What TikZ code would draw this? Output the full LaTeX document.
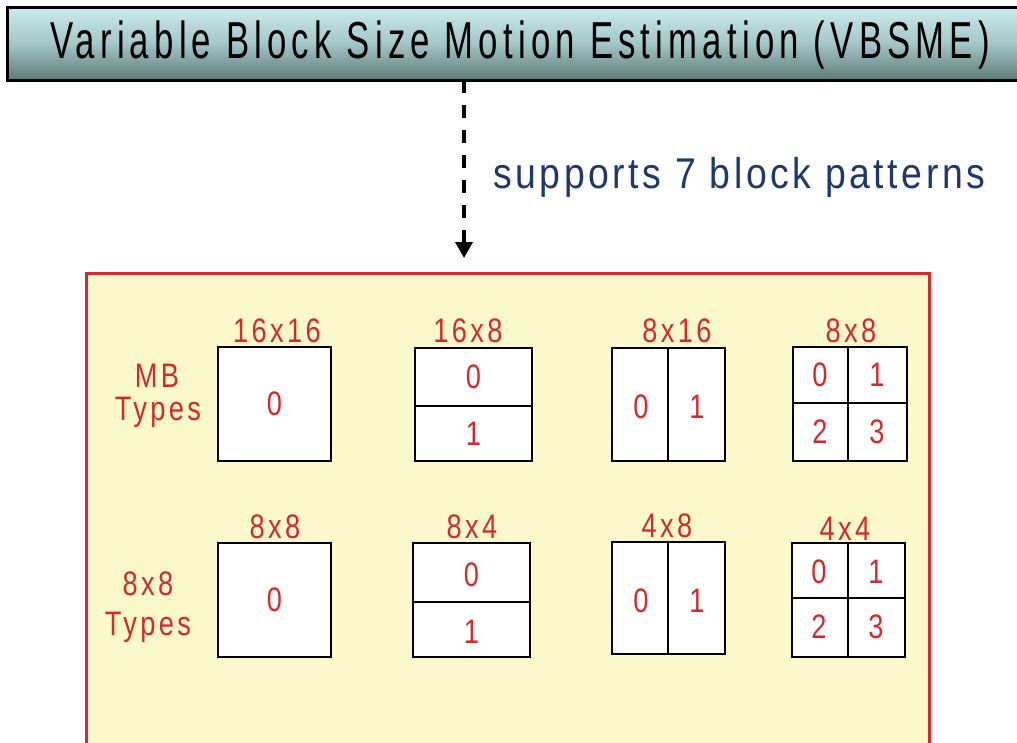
\documentclass[tikz,border=0pt]{standalone}
\usepackage{fontspec}
\usepackage{graphicx}
\usetikzlibrary{arrows.meta}
\newfontfamily\cfont[FakeStretch=0.8,LetterSpace=10]{Liberation Sans}
\newfontfamily\hfont[FakeStretch=0.8,LetterSpace=12]{Liberation Sans}
\newfontfamily\sfont[FakeStretch=0.85,LetterSpace=8]{Liberation Sans}
\definecolor{vred}{HTML}{D12A2F}
\definecolor{vnavy}{HTML}{1F3A6A}
\definecolor{vyellow}{HTML}{FBF8CC}
\definecolor{htop}{HTML}{CDEBEF}
\definecolor{hmid}{HTML}{A3C6C6}
\definecolor{hbot}{HTML}{5D7A77}
\tikzset{
  blk/.style={draw=black,line width=2.8pt,fill=white},
  divl/.style={draw=black,line width=2.8pt},
  lbl/.style={text=vred,font=\cfont\fontsize{34}{34}\selectfont,inner sep=0pt},
  num/.style={text=vred,font=\cfont\fontsize{34}{34}\selectfont,inner sep=0pt},
}
\begin{document}
\begin{tikzpicture}[x=1pt,y=-1pt]
\clip (0,0) rectangle (1017,742);
\fill[white] (0,0) rectangle (1017,742);
% header
\shade[top color=htop,bottom color=hbot,middle color=hmid] (7,7) rectangle (1030,80);
\draw[line width=3pt] (7,7) rectangle (1030,80);
\node[inner sep=0pt] (title) at (520,45) {\resizebox{940pt}{\height}{\hfont\fontsize{52}{52}\selectfont Variable Block Size Motion Estimation (VBSME)}};
\coordinate (hb) at (464,80);
% panel
\draw[draw=vred,fill=vyellow,line width=3pt] (86,273) rectangle (929,790);
\coordinate (pt) at (464,258);
\draw[line width=3.5pt,dash pattern=on 13pt off 12pt,-{Triangle[width=17pt,length=16pt]}] (hb) -- (pt);
\node[anchor=base west,inner sep=0pt,text=vnavy] (sup) at (493,188) {\resizebox{492pt}{\height}{\sfont\fontsize{43}{43}\selectfont supports 7 block patterns}};
% row 1
\node[blk,minimum width=113pt,minimum height=114pt,inner sep=0pt] (b1) at (274.5,404) {};
\node[num] (b1n) at (b1.center) {0};
\node[lbl,anchor=base] (b1l) at (277,342) {16x16};

\draw[blk] (415,348) rectangle (532,461);
\coordinate (b2a) at (415,406); \coordinate (b2b) at (532,406);
\draw[divl] (b2a) -- (b2b);
\node[num] (b2n0) at (473.5,377) {0};
\node[num] (b2n1) at (473.5,434) {1};
\node[lbl,anchor=base] (b2l) at (468,342) {16x8};

\draw[blk] (612,348) rectangle (725,461);
\coordinate (b3a) at (668,348); \coordinate (b3b) at (668,461);
\draw[divl] (b3a) -- (b3b);
\node[num] (b3n0) at (641,407) {0};
\node[num] (b3n1) at (697,407) {1};
\node[lbl,anchor=base] (b3l) at (677,342) {8x16};

\draw[blk] (793,347) rectangle (907,461);
\coordinate (b4a) at (848,347); \coordinate (b4b) at (848,461);
\coordinate (b4c) at (793,403); \coordinate (b4d) at (907,403);
\draw[divl] (b4a) -- (b4b);
\draw[divl] (b4c) -- (b4d);
\node[num] (b4n0) at (820,375) {0};
\node[num] (b4n1) at (877,375) {1};
\node[num] (b4n2) at (820,432) {2};
\node[num] (b4n3) at (877,432) {3};
\node[lbl,anchor=base] (b4l) at (851,342) {8x8};

\node[lbl,anchor=base] (mb1) at (157,387) {MB};
\node[lbl,anchor=base] (mb2) at (158,420) {Types};

% row 2
\node[blk,minimum width=113pt,minimum height=114pt,inner sep=0pt] (c1) at (274.5,600) {};
\node[num] (c1n) at (c1.center) {0};
\node[lbl,anchor=base] (c1l) at (275,538) {8x8};

\draw[blk] (413,543) rectangle (530,657);
\coordinate (c2a) at (413,602); \coordinate (c2b) at (530,602);
\draw[divl] (c2a) -- (c2b);
\node[num] (c2n0) at (471.5,575) {0};
\node[num] (c2n1) at (471.5,632) {1};
\node[lbl,anchor=base] (c2l) at (472,538) {8x4};

\draw[blk] (612,542) rectangle (725,654);
\coordinate (c3a) at (668,542); \coordinate (c3b) at (668,654);
\draw[divl] (c3a) -- (c3b);
\node[num] (c3n0) at (641,601) {0};
\node[num] (c3n1) at (697,601) {1};
\node[lbl,anchor=base] (c3l) at (667,537) {4x8};

\draw[blk] (792,543) rectangle (905,657);
\coordinate (c4a) at (848,543); \coordinate (c4b) at (848,657);
\coordinate (c4c) at (792,598); \coordinate (c4d) at (905,598);
\draw[divl] (c4a) -- (c4b);
\draw[divl] (c4c) -- (c4d);
\node[num] (c4n0) at (819,572) {0};
\node[num] (c4n1) at (876,572) {1};
\node[num] (c4n2) at (819,627) {2};
\node[num] (c4n3) at (876,627) {3};
\node[lbl,anchor=base] (c4l) at (845,540) {4x4};

\node[lbl,anchor=base] (t1) at (148,595) {8x8};
\node[lbl,anchor=base] (t2) at (148,635) {Types};
\end{tikzpicture}
\end{document}
